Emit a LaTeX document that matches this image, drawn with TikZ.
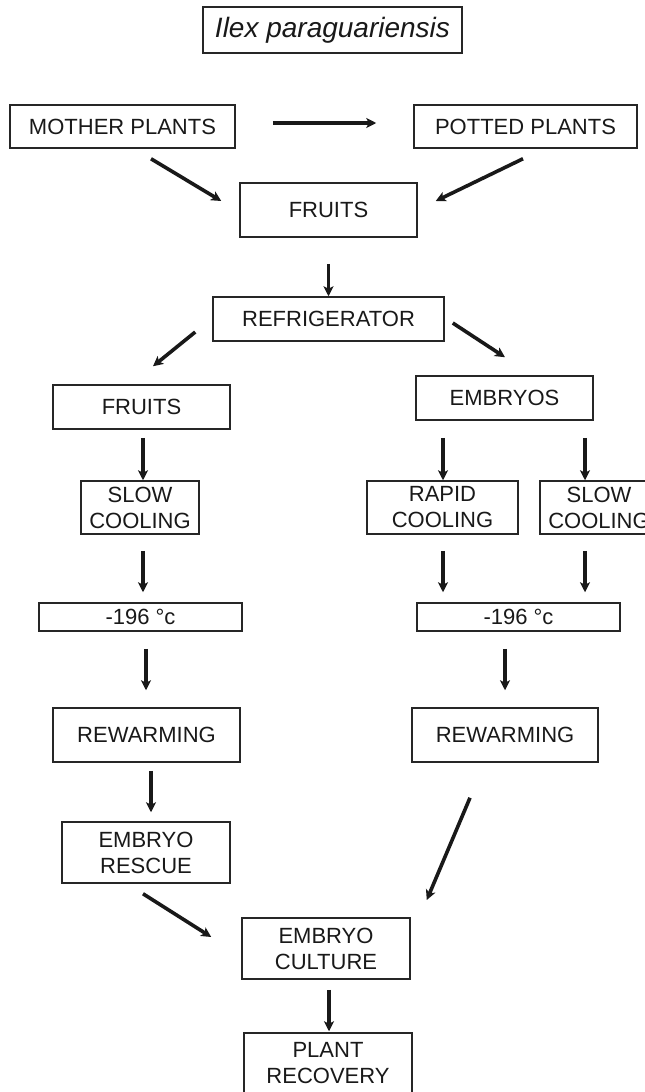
\documentclass[tikz,border=0pt]{standalone}
\usepackage{fontspec}
\setmainfont{Liberation Sans}
\usetikzlibrary{calc,arrows.meta}
\begin{document}
\begin{tikzpicture}[x=1pt,y=-1pt,
  box/.style={draw=black!85,line width=1.5pt,inner sep=0pt,align=center,
    font=\fontsize{22}{26}\selectfont,text=black!90},
  arr/.style={line width=3.6pt,draw=black!90,
    -{Stealth[length=10pt,width=10pt,inset=2.5pt]}}]
\useasboundingbox (0,0) rectangle (645,1092);
\fill[white] (0,0) rectangle (645,1092);
% nodes
\node[box,minimum width=259pt,minimum height=46pt,font=\fontsize{28}{32}\selectfont\itshape] (ilex) at (332.5,30) {Ilex paraguariensis};
\node[box,minimum width=225pt,minimum height=43pt] (mother) at (122.5,126.5) {MOTHER PLANTS};
\node[box,minimum width=223pt,minimum height=43pt] (potted) at (525.5,126.5) {POTTED PLANTS};
\node[box,minimum width=177pt,minimum height=54pt] (fruits) at (328.5,210) {FRUITS};
\node[box,minimum width=231pt,minimum height=44pt] (refr) at (328.5,319) {REFRIGERATOR};
\node[box,minimum width=177pt,minimum height=44pt] (fruitsL) at (141.5,407) {FRUITS};
\node[box,minimum width=177pt,minimum height=44pt] (embryos) at (504.5,398) {EMBRYOS};
\node[box,minimum width=118pt,minimum height=53pt] (slowL) at (140,507.5) {SLOW\\COOLING};
\node[box,minimum width=151pt,minimum height=53pt] (rapid) at (442.5,507.5) {RAPID\\COOLING};
\node[box,minimum width=118pt,minimum height=53pt] (slowR) at (599,507.5) {SLOW\\COOLING};
\node[box,minimum width=203pt,minimum height=28pt] (m196L) at (140.5,617) {-196 °c};
\node[box,minimum width=203pt,minimum height=28pt] (m196R) at (518.5,617) {-196 °c};
\node[box,minimum width=187pt,minimum height=54pt] (rewL) at (146.5,735) {REWARMING};
\node[box,minimum width=186pt,minimum height=54pt] (rewR) at (505,735) {REWARMING};
\node[box,minimum width=168pt,minimum height=61pt] (rescue) at (146,852.5) {EMBRYO\\RESCUE};
\node[box,minimum width=168pt,minimum height=61pt] (culture) at (326,948.5) {EMBRYO\\CULTURE};
\node[box,minimum width=168pt,minimum height=61pt] (recovery) at (328,1063.5) {PLANT\\RECOVERY};
% connectors
\draw[arr] ($(mother.east)+(37,-3.5)$) -- ($(potted.west)+(-37,-3.5)$);
\draw[arr] ($(mother.south)+(28.5,10)$) -- ($(fruits.west)+(-18,-9)$);
\draw[arr] ($(potted.south)+(-2.5,10)$) -- ($(fruits.east)+(18,-9)$);
\draw[arr] ($(fruits.south)+(0,26)$) -- (refr.north);
\draw[arr] ($(refr.west)+(-17,13)$) -- ($(fruitsL.north)+(11.5,-18)$);
\draw[arr] ($(refr.east)+(8,4)$) -- ($(embryos.north)+(0.5,-18)$);
\draw[arr] ($(fruitsL.south)+(1.5,8)$) -- ($(slowL.north)+(3,0)$);
\draw[arr] ($(embryos.south)+(-61.5,17)$) -- ($(rapid.north)+(0.5,0)$);
\draw[arr] ($(embryos.south)+(80.5,17)$) -- ($(slowR.north)+(-14,0)$);
\draw[arr] ($(slowL.south)+(3,16)$) -- ($(m196L.north)+(2.5,-10)$);
\draw[arr] ($(rapid.south)+(0.5,16)$) -- ($(m196R.north)+(-75.5,-10)$);
\draw[arr] ($(slowR.south)+(-14,16)$) -- ($(m196R.north)+(66.5,-10)$);
\draw[arr] ($(m196L.south)+(5.5,17)$) -- ($(rewL.north)+(-0.5,-17)$);
\draw[arr] ($(m196R.south)+(-13.5,17)$) -- ($(rewR.north)+(0,-17)$);
\draw[arr] ($(rewL.south)+(4.5,8)$) -- ($(rescue.north)+(5,-9)$);
\draw[arr] ($(rewR.south)+(-35,35)$) -- ($(culture.east)+(16,-48.5)$);
\draw[arr] ($(rescue.south)+(-3,10)$) -- ($(culture.west)+(-30,-11.5)$);
\draw[arr] ($(culture.south)+(3,10)$) -- ($(recovery.north)+(1,-1)$);
\end{tikzpicture}
\end{document}
